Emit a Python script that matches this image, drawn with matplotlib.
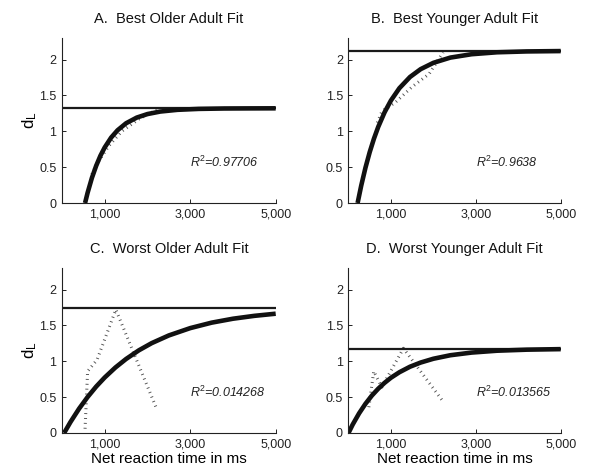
import matplotlib
matplotlib.use("Agg")
import matplotlib.pyplot as plt

plt.rcParams['font.family'] = ['Liberation Sans', 'DejaVu Sans']
plt.rcParams['mathtext.fontset'] = 'custom'
plt.rcParams['mathtext.rm'] = 'Liberation Sans'
plt.rcParams['mathtext.it'] = 'Liberation Sans:italic'
plt.rcParams['mathtext.sf'] = 'Liberation Sans'

titles = ["A.  Best Older Adult Fit", "B.  Best Younger Adult Fit",
          "C.  Worst Older Adult Fit", "D.  Worst Younger Adult Fit"]
r2_labels = ["0.97706", "0.9638", "0.014268", "0.013565"]
asymptotes = [1.32, 2.12, 1.745, 1.175]

# observed data (dotted)
data_a_x = [700, 820, 1100, 1400, 1800, 2250]
data_a_y = [0.40, 0.55, 0.80, 1.00, 1.17, 1.31]
data_b_x = [680, 790, 1100, 1500, 1900, 2230]
data_b_y = [1.12, 1.28, 1.40, 1.62, 1.80, 2.10]
data_c_x = [540, 600, 820, 1260, 2220]
data_c_y = [0.06, 0.86, 1.02, 1.72, 0.33]
data_d_x = [480, 595, 785, 1295, 2240]
data_d_y = [0.36, 0.86, 0.64, 1.18, 0.43]

# fitted curves
fit_a_x = [540, 600, 700, 800, 900, 1000, 1150, 1300, 1500, 1750, 2000, 2300, 2700, 3200, 3800, 4400, 5000]
fit_a_y = [0.0, 0.144, 0.350, 0.519, 0.660, 0.775, 0.912, 1.014, 1.112, 1.191, 1.240, 1.275, 1.299, 1.312, 1.3175, 1.319, 1.320]
fit_b_x = [215, 300, 400, 500, 600, 700, 850, 1000, 1200, 1450, 1700, 2000, 2400, 2900, 3500, 4200, 5000]
fit_b_y = [0.0, 0.242, 0.492, 0.709, 0.897, 1.060, 1.264, 1.429, 1.601, 1.757, 1.866, 1.954, 2.027, 2.074, 2.101, 2.113, 2.118]
fit_c_x = [50, 200, 400, 600, 800, 1000, 1250, 1500, 1800, 2100, 2500, 3000, 3500, 4000, 4500, 5000]
fit_c_y = [0.0, 0.154, 0.339, 0.502, 0.647, 0.774, 0.913, 1.032, 1.153, 1.253, 1.360, 1.462, 1.538, 1.593, 1.633, 1.663]
fit_d_x = [0, 100, 250, 400, 550, 700, 850, 1000, 1200, 1450, 1700, 2000, 2400, 2900, 3500, 4200, 5000]
fit_d_y = [0.0, 0.119, 0.274, 0.407, 0.521, 0.617, 0.699, 0.770, 0.847, 0.924, 0.982, 1.035, 1.084, 1.121, 1.147, 1.1615, 1.169]

x_ticks = [1000, 3000, 5000]
x_tick_labels = ["1,000", "3,000", "5,000"]
y_ticks = [0, 0.5, 1, 1.5, 2]
y_tick_labels = ["0", "0.5", "1", "1.5", "2"]

data_x = [data_a_x, data_b_x, data_c_x, data_d_x]
data_y = [data_a_y, data_b_y, data_c_y, data_d_y]
fit_x = [fit_a_x, fit_b_x, fit_c_x, fit_d_x]
fit_y = [fit_a_y, fit_b_y, fit_c_y, fit_d_y]

fig = plt.figure(figsize=(6.0, 4.74), dpi=100)
positions = [
    [0.1033, 0.5717, 0.3562, 0.3481],
    [0.5808, 0.5717, 0.3537, 0.3481],
    [0.1033, 0.0865, 0.3562, 0.3481],
    [0.5808, 0.0865, 0.3537, 0.3481],
]

for i in range(4):
    ax = fig.add_axes(positions[i])
    ax.plot(data_x[i], data_y[i], color='#505050', lw=2.2,
            linestyle=(0, (0.3, 1.3)), solid_capstyle='butt',
            dash_capstyle='butt')
    ax.plot([0, 5000], [asymptotes[i], asymptotes[i]], color='#1a1a1a', lw=1.6)
    ax.plot(fit_x[i], fit_y[i], color='#111111', lw=3.3, solid_capstyle='butt')
    ax.set_xlim(0, 5000)
    ax.set_ylim(0, 2.3)
    ax.set_xticks(x_ticks)
    ax.set_xticklabels(x_tick_labels)
    ax.set_yticks(y_ticks)
    ax.set_yticklabels(y_tick_labels)
    ax.tick_params(direction='in', length=3, width=0.7, labelsize=9,
                   colors='#222222', pad=4)
    for s in ['top', 'right']:
        ax.spines[s].set_visible(False)
    for s in ['left', 'bottom']:
        ax.spines[s].set_linewidth(0.8)
        ax.spines[s].set_color('#222222')
    ax.set_title(titles[i], fontsize=10.5, pad=11, color='#111111')
    ax.text(3000, 0.56, 'R$^{2}$=' + r2_labels[i], fontsize=9, style='italic',
            ha='left', va='center', color='#222222')
    if i in (0, 2):
        ax.set_ylabel(r'$\mathrm{d_L}$', fontsize=12, labelpad=0)
    if i in (2, 3):
        ax.set_xlabel('Net reaction time in ms', fontsize=11, labelpad=1)

fig.savefig('out.png', dpi=100)
